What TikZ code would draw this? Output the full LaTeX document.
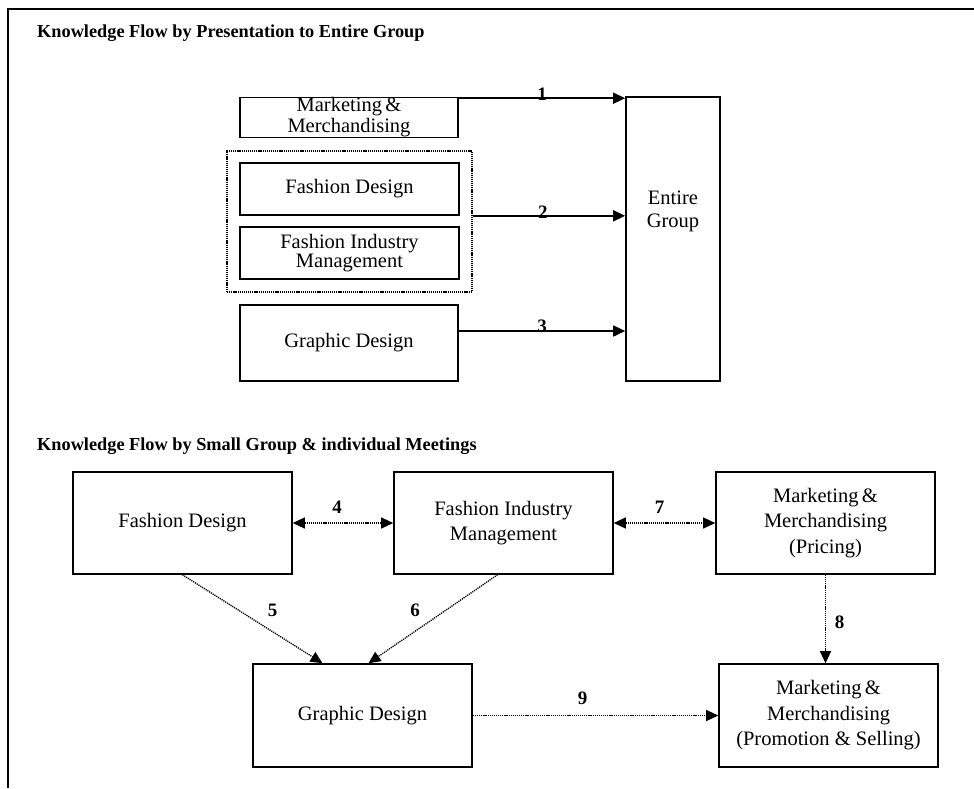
\documentclass[tikz,border=0pt]{standalone}
\usepackage{fontspec}
\setmainfont{Liberation Serif}
\usetikzlibrary{arrows.meta,calc}

\tikzset{
	box/.style={draw, line width=1.6pt, inner sep=0pt, align=center, font=\fontsize{20.5}{21}\selectfont},
	lowbox/.style={box, font=\fontsize{20.5}{25.5}\selectfont},
	grpbox/.style={draw, line width=1.3pt, dash pattern=on 1.2pt off 0.9pt, inner sep=0pt},
	heading/.style={anchor=base west, inner sep=0pt, font=\fontsize{18.3}{20}\selectfont\bfseries},
	num/.style={inner sep=0pt, font=\fontsize{19}{20}\selectfont\bfseries},
	tip/.tip={Triangle[length=12pt,width=11pt]},
	flow/.style={line width=1.6pt, -tip},
	meet/.style={line width=1.3pt, dash pattern=on 1.2pt off 0.9pt, -tip},
	meetboth/.style={meet, tip-tip},
}

\begin{document}
\begin{tikzpicture}[x=1pt, y=-1pt]
		%%%%% START %%%%%
		\useasboundingbox (0,0) rectangle (974,788);
		
		% frame
		\draw[line width=2pt] (8,788) -- (8,9) -- (974,9);
		
		% presentation to entire group
		\node[heading] (titleA) at (37,37) {Knowledge Flow by Presentation to Entire Group};
		
		\node[box, minimum width=218, minimum height=40] (mmtop) at (349,117.5) {Marketing\,\&\\Merchandising};
		\node[grpbox, minimum width=245, minimum height=141] (grp) at (349.5,221.5) {};
		\node[box, minimum width=219, minimum height=52] (fdtop) at (349.5,189) {Fashion Design};
		\node[box, minimum width=219, minimum height=52, font=\fontsize{20.5}{19}\selectfont] (fimtop) at (349.5,253) {Fashion Industry\\Management};
		\node[box, minimum width=218, minimum height=76] (gdtop) at (349,343) {Graphic Design};
		
		\node[box, minimum width=94, minimum height=284] (entire) at (673,239) {};
		\node[inner sep=0pt, align=center, font=\fontsize{20.5}{23}\selectfont] (entiretxt) at (673,211) {Entire\\Group};
		
		\coordinate (mmout) at ($(mmtop.north east)+(0,1.5)$);
		\coordinate (gdout) at ($(gdtop.east)+(0,-12)$);
		\draw[flow] (mmout) -- (mmout -| entire.west) node[num, midway, yshift=4pt] {1};
		\draw[flow] (fdtop.south -| grp.east) -- (fdtop.south -| entire.west) node[num, pos=0.46, yshift=4pt] {2};
		\draw[flow] (gdout) -- (gdout -| entire.west) node[num, midway, yshift=5pt] {3};
		
		% small group & individual meetings
		\node[heading] (titleB) at (37,450) {Knowledge Flow by Small Group \& individual Meetings};
		
		\node[lowbox, minimum width=219, minimum height=102] (fd) at (182.5,523) {Fashion Design};
		\node[lowbox, minimum width=219, minimum height=102] (fim) at (503.5,523) {Fashion Industry\\Management};
		\node[lowbox, minimum width=219, minimum height=102] (pricing) at (825.5,523) {Marketing\,\&\\Merchandising\\(Pricing)};
		\node[lowbox, minimum width=219, minimum height=103] (gd) at (362.5,715.5) {Graphic Design};
		\node[lowbox, minimum width=219, minimum height=103] (ps) at (828.5,715.5) {Marketing\,\&\\Merchandising\\(Promotion \& Selling)};
		
		\draw[meetboth] (fd.east) -- (fim.west) node[num, midway, yshift=16pt, xshift=-6pt] {4};
		\draw[meetboth] (fim.east) -- (pricing.west) node[num, midway, yshift=16pt, xshift=-5pt] {7};
		\draw[meet] (fd.south) -- ($(gd.north)+(-40,0)$) node[num, midway, xshift=20pt, yshift=9pt] {5};
		\draw[meet] ($(fim.south)+(-6,0)$) -- ($(gd.north)+(6,0)$) node[num, midway, xshift=-18pt, yshift=9pt] {6};
		\draw[meet] (pricing.south) -- (pricing.south |- ps.north) node[num, midway, xshift=14pt, yshift=-3pt] {8};
		\draw[meet] (gd.east) -- (ps.west) node[num, midway, xshift=-13pt, yshift=17pt] {9};
		
		%%%%% END %%%%%
	\end{tikzpicture}
\end{document}
